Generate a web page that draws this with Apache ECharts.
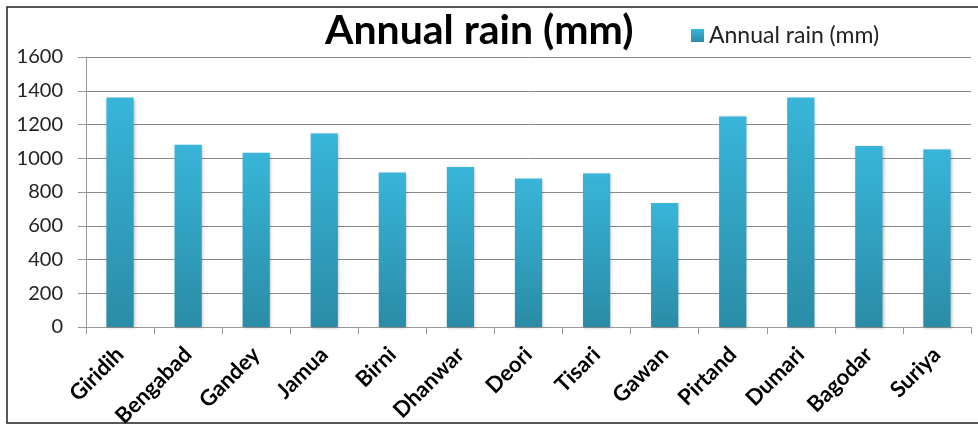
<!DOCTYPE html>
<html>
<head>
<meta charset="utf-8">
<script src="https://cdn.jsdelivr.net/npm/echarts@6/dist/echarts.min.js"></script>
<style>
  html, body { margin: 0; padding: 0; background: #fff; }
  #mychart { width: 978px; height: 425px; }
</style>
</head>
<body>
<div id="mychart"></div>
<script>
// blocks and their annual rain (mm)
const blocks = ['Giridih', 'Bengabad', 'Gandey', 'Jamua', 'Birni', 'Dhanwar', 'Deori',
  'Tisari', 'Gawan', 'Pirtand', 'Dumari', 'Bagodar', 'Suriya'];
const annualRain = [1360, 1080, 1032, 1147, 915, 948, 880, 910, 735, 1248, 1360, 1072, 1052];
const yTicks = { min: 0, max: 1600, step: 200 };

const myChart = echarts.init(document.getElementById('mychart'));

const barColor = new echarts.graphic.LinearGradient(0, 0, 0, 1, [
  { offset: 0, color: '#38b5d9' },
  { offset: 1, color: '#2a8ca6' }
]);

const option = {
  backgroundColor: '#fff',
  animation: false,
  textStyle: { fontFamily: 'Lato' },
  title: {
    text: 'Annual rain (mm)',
    left: 320,
    top: 5,
    textStyle: { fontFamily: 'Lato', fontWeight: 'bold', fontSize: 41, color: '#000' }
  },
  legend: {
    data: ['Annual rain (mm)'],
    left: 686,
    top: 19,
    icon: 'rect',
    itemWidth: 13,
    itemHeight: 13,
    itemGap: 4,
    textStyle: { fontFamily: 'Lato', fontSize: 23, color: '#222' }
  },
  grid: {
    left: 86, right: 7, top: 57, bottom: 98,
    containLabel: false,
    outerBoundsMode: 'none'
  },
  graphic: [{
    type: 'rect',
    shape: { x: 7, y: 7, width: 990, height: 416 },
    style: { fill: 'none', stroke: '#222', lineWidth: 1.5 },
    silent: true
  }],
  xAxis: {
    type: 'category',
    data: blocks,
    axisLine: { lineStyle: { color: '#999', width: 1 } },
    axisTick: { show: true, length: 7, lineStyle: { color: '#999' } },
    axisLabel: {
      rotate: 45,
      margin: 24,
      fontFamily: 'Lato',
      fontWeight: 'bold',
      fontSize: 22,
      color: '#000'
    }
  },
  yAxis: {
    type: 'value',
    min: yTicks.min,
    max: yTicks.max,
    interval: yTicks.step,
    axisLine: { show: true, lineStyle: { color: '#999', width: 1 } },
    axisTick: { show: true, length: 8, lineStyle: { color: '#999' } },
    axisLabel: {
      margin: 23,
      fontFamily: 'Lato',
      fontSize: 20,
      color: '#222',
      formatter: v => String(v)
    },
    splitLine: { lineStyle: { color: '#8a8a8a', width: 1 } }
  },
  series: [{
    name: 'Annual rain (mm)',
    type: 'bar',
    barWidth: '40%',
    data: annualRain,
    itemStyle: {
      color: barColor,
      shadowColor: 'rgba(0,0,0,0.25)',
      shadowBlur: 3,
      shadowOffsetX: 1,
      shadowOffsetY: 1
    }
  }]
};

myChart.setOption(option, true);
</script>
</body>
</html>
